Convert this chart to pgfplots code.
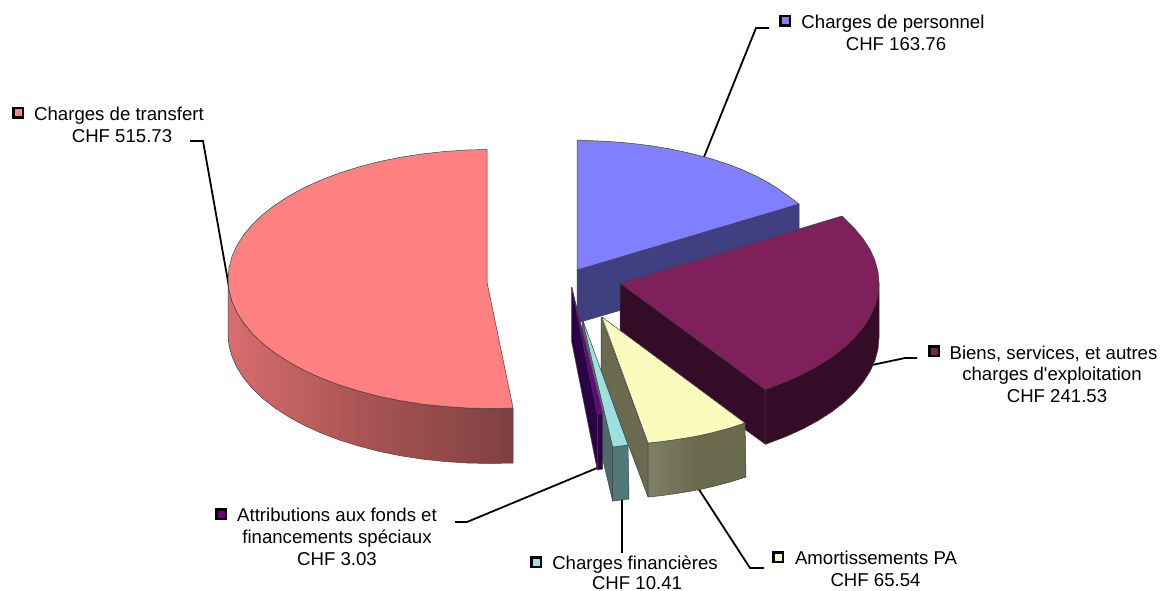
\documentclass[border=0pt]{standalone}
\usepackage{fontspec}
\setmainfont{Liberation Sans}
\newfontfamily\plainf{Liberation Sans}
\usepackage{pgfplots}
\pgfplotsset{compat=1.18}
\definecolor{redT}{HTML}{FF8080}
\definecolor{blueT}{HTML}{8080FF}
\definecolor{blueW}{HTML}{404080}
\definecolor{plumT}{HTML}{7F1F5C}
\definecolor{plumW}{HTML}{340C28}
\definecolor{yelT}{HTML}{FBFBBE}
\definecolor{yelW}{HTML}{6A6A4E}
\definecolor{cyaT}{HTML}{9EE0E0}
\definecolor{cyaW}{HTML}{4A6C6C}
\definecolor{cyaF}{HTML}{507878}
\definecolor{vioT}{HTML}{6E0082}
\definecolor{vioW}{HTML}{2D0047}
\tikzset{lab/.style={font=\fontsize{18.6}{22}\selectfont,anchor=base,inner sep=0pt,yshift=-6.7pt}}
\pgfplotsset{
  edge/.style={draw=black!75,line width=0.5pt,line join=round},
  leader/.style={draw=black,line width=1.8pt,line join=miter},
  key/.style={only marks,mark=square*,mark size=4.6pt,
    mark options={draw=black,line width=2.2pt,rounded corners=1pt,fill=#1}},
}
\begin{document}
\begin{tikzpicture}
\begin{axis}[
  width=1162pt,height=591pt,scale only axis,hide axis,
  xmin=0,xmax=1162,ymin=0,ymax=591,y dir=reverse,
  clip=false,
]
% frame that fixes the page to the full 1162 x 591 area
\addplot[draw=none] coordinates {(0,0) (1162,0) (1162,591) (0,591)};
% leader lines behind the slices
\addplot[leader] coordinates {(704,157) (756,28) (769,28)};
\addplot[leader] coordinates {(229,287) (203,141) (190,141)};
\addplot[leader] coordinates {(872,365) (905,358) (917,358)};
\addplot[leader] coordinates {(698,488) (750,568) (764,568)};
\addplot[leader] coordinates {(622,499) (622,553)};
\addplot[leader] coordinates {(597,468) (467,522) (455,522)};
% red slice: wall then top
\addplot[edge,left color=redT!85!black,right color=redT!50!black,middle color=redT!65!black] coordinates {
 (228,279) (229,290.3) (232,301.5) (236.9,312.5) (243.8,323.3) (252.5,333.7) (263.1,343.8) (275.4,353.3) (289.3,362.2) (304.7,370.6) (321.6,378.2) (339.7,385.1) (359,391.1) (379.3,396.4) (400.4,400.7) (422.2,404.1) (444.5,406.5) (467.2,408) (490,408.5) (513,408)
 (513,463) (490,463.5) (467.2,463) (444.5,461.5) (422.2,459.1) (400.4,455.7) (379.3,451.4) (359,446.1) (339.7,440.1) (321.6,433.2) (304.7,425.6) (289.3,417.2) (275.4,408.3) (263.1,398.8) (252.5,388.7) (243.8,378.3) (236.9,367.5) (232,356.5) (229,345.3) (228,334)} -- cycle;
\addplot[edge,fill=redT] coordinates {
 (487,282) (487,149.5) (467.2,150) (444.5,151.5) (422.2,153.9) (400.4,157.3) (379.3,161.6) (359,166.9) (339.7,172.9) (321.6,179.8) (304.7,187.4) (289.3,195.8) (275.4,204.7) (263.1,214.3) (252.5,224.3) (243.8,234.7) (236.9,245.5) (232,256.5) (229,267.7) (228,279)
 (229,290.3) (232,301.5) (236.9,312.5) (243.8,323.3) (252.5,333.7) (263.1,343.8) (275.4,353.3) (289.3,362.2) (304.7,370.6) (321.6,378.2) (339.7,385.1) (359,391.1) (379.3,396.4) (400.4,400.7) (422.2,404.1) (444.5,406.5) (467.2,408) (490,408.5) (513,408)} -- cycle;
% blue slice
\addplot[edge,fill=blueW] coordinates {(577,270) (799,204) (799,258) (577,323)} -- cycle;
\addplot[edge,fill=blueT] coordinates {
 (577,270) (577,140) (592,140.7) (607,141.4) (622,142.4) (637,144) (652,145.9) (667,148.4) (682,151.4) (697,154.9) (712,159) (727,163.8) (742,169.6) (757,176.5) (767,181.8) (777,188) (787,195) (799,204)} -- cycle;
% plum slice
\addplot[edge,fill=plumW] coordinates {(620,283) (765,389) (765,444) (620,338)} -- cycle;
\addplot[edge,fill=plumW] coordinates {
 (879,283) (878,294.2) (875,305.4) (870.1,316.4) (863.2,327.1) (854.5,337.5) (843.9,347.5) (831.6,357) (817.7,365.9) (802.3,374.2) (785.4,381.8) (765,389.5)
 (765,444.5) (785.4,436.8) (802.3,429.2) (817.7,420.9) (831.6,412) (843.9,402.5) (854.5,392.5) (863.2,382.1) (870.1,371.4) (875,360.4) (878,349.2) (879,338)} -- cycle;
\addplot[edge,fill=plumT] coordinates {
 (620,283) (842,216) (854.5,228.5) (863.2,238.9) (870.1,249.6) (875,260.6) (878,271.8) (879,283)
 (878,294.2) (875,305.4) (870.1,316.4) (863.2,327.1) (854.5,337.5) (843.9,347.5) (831.6,357) (817.7,365.9) (802.3,374.2) (785.4,381.8) (765,389.5)} -- cycle;
% yellow slice
\addplot[edge,fill=yelW] coordinates {(601,317) (648,443) (648,497) (601,372)} -- cycle;
\addplot[edge,left color=yelW!85!white,right color=yelW,middle color=yelW] coordinates {
 (648,443) (660,441.8) (673,440) (686,438) (700,435.5) (715,432) (730,428) (745,423) (746,477) (730,482) (715,486) (700,489.5) (686,492) (673,494) (660,495.8) (648,497)} -- cycle;
\addplot[edge,fill=yelT] coordinates {(602,317) (648,443) (660,441.8) (673,440) (686,438) (700,435.5) (715,432) (730,428) (745,423)} -- cycle;
% cyan slice
\addplot[edge,fill=cyaW] coordinates {(582,318) (612.7,447) (612.7,501) (582,373)} -- cycle;
\addplot[edge,fill=cyaF] coordinates {(612.7,447) (628,445) (629,499) (612.7,501)} -- cycle;
\addplot[edge,fill=cyaT] coordinates {(582,318) (628,445) (612.7,447)} -- cycle;
% violet slice
\addplot[edge,fill=vioW] coordinates {(571.7,287) (597.3,414) (597.3,470) (571.7,342)} -- cycle;
\addplot[edge,fill=vioW] coordinates {(597.3,414) (602.7,413.3) (602.7,469) (597.3,470)} -- cycle;
\addplot[edge,fill=vioT] coordinates {(571.7,287) (602.7,413.3) (597.3,414)} -- cycle;
% keys
\addplot[key=blueT] coordinates {(785,21)};
\addplot[key=redT] coordinates {(18,113)};
\addplot[key=plumT] coordinates {(934,351)};
\addplot[key=yelT] coordinates {(778,557)};
\addplot[key=cyaT] coordinates {(536,562)};
\addplot[key=vioT] coordinates {(221,514)};
% labels
\node[lab] at (axis cs:893,22) {Charges de personnel};
\node[lab] at (axis cs:896,44) {CHF 163.76};
\node[lab] at (axis cs:119,113.5) {Charges de transfert};
\node[lab] at (axis cs:122,136) {CHF 515.73};
\node[lab] at (axis cs:1053.5,352.5) {Biens, services, et autres};
\node[lab] at (axis cs:1052,374) {\plainf charges d'exploitation};
\node[lab] at (axis cs:1057,396) {CHF 241.53};
\node[lab] at (axis cs:876,558) {Amortissements PA};
\node[lab] at (axis cs:875.5,580) {CHF 65.54};
\node[lab] at (axis cs:635,563) {Charges financières};
\node[lab] at (axis cs:637,582.5) {CHF 10.41};
\node[lab] at (axis cs:337,515) {Attributions aux fonds et};
\node[lab] at (axis cs:337,537) {financements spéciaux};
\node[lab] at (axis cs:337,558.5) {CHF 3.03};
\end{axis}
\end{tikzpicture}
\end{document}
